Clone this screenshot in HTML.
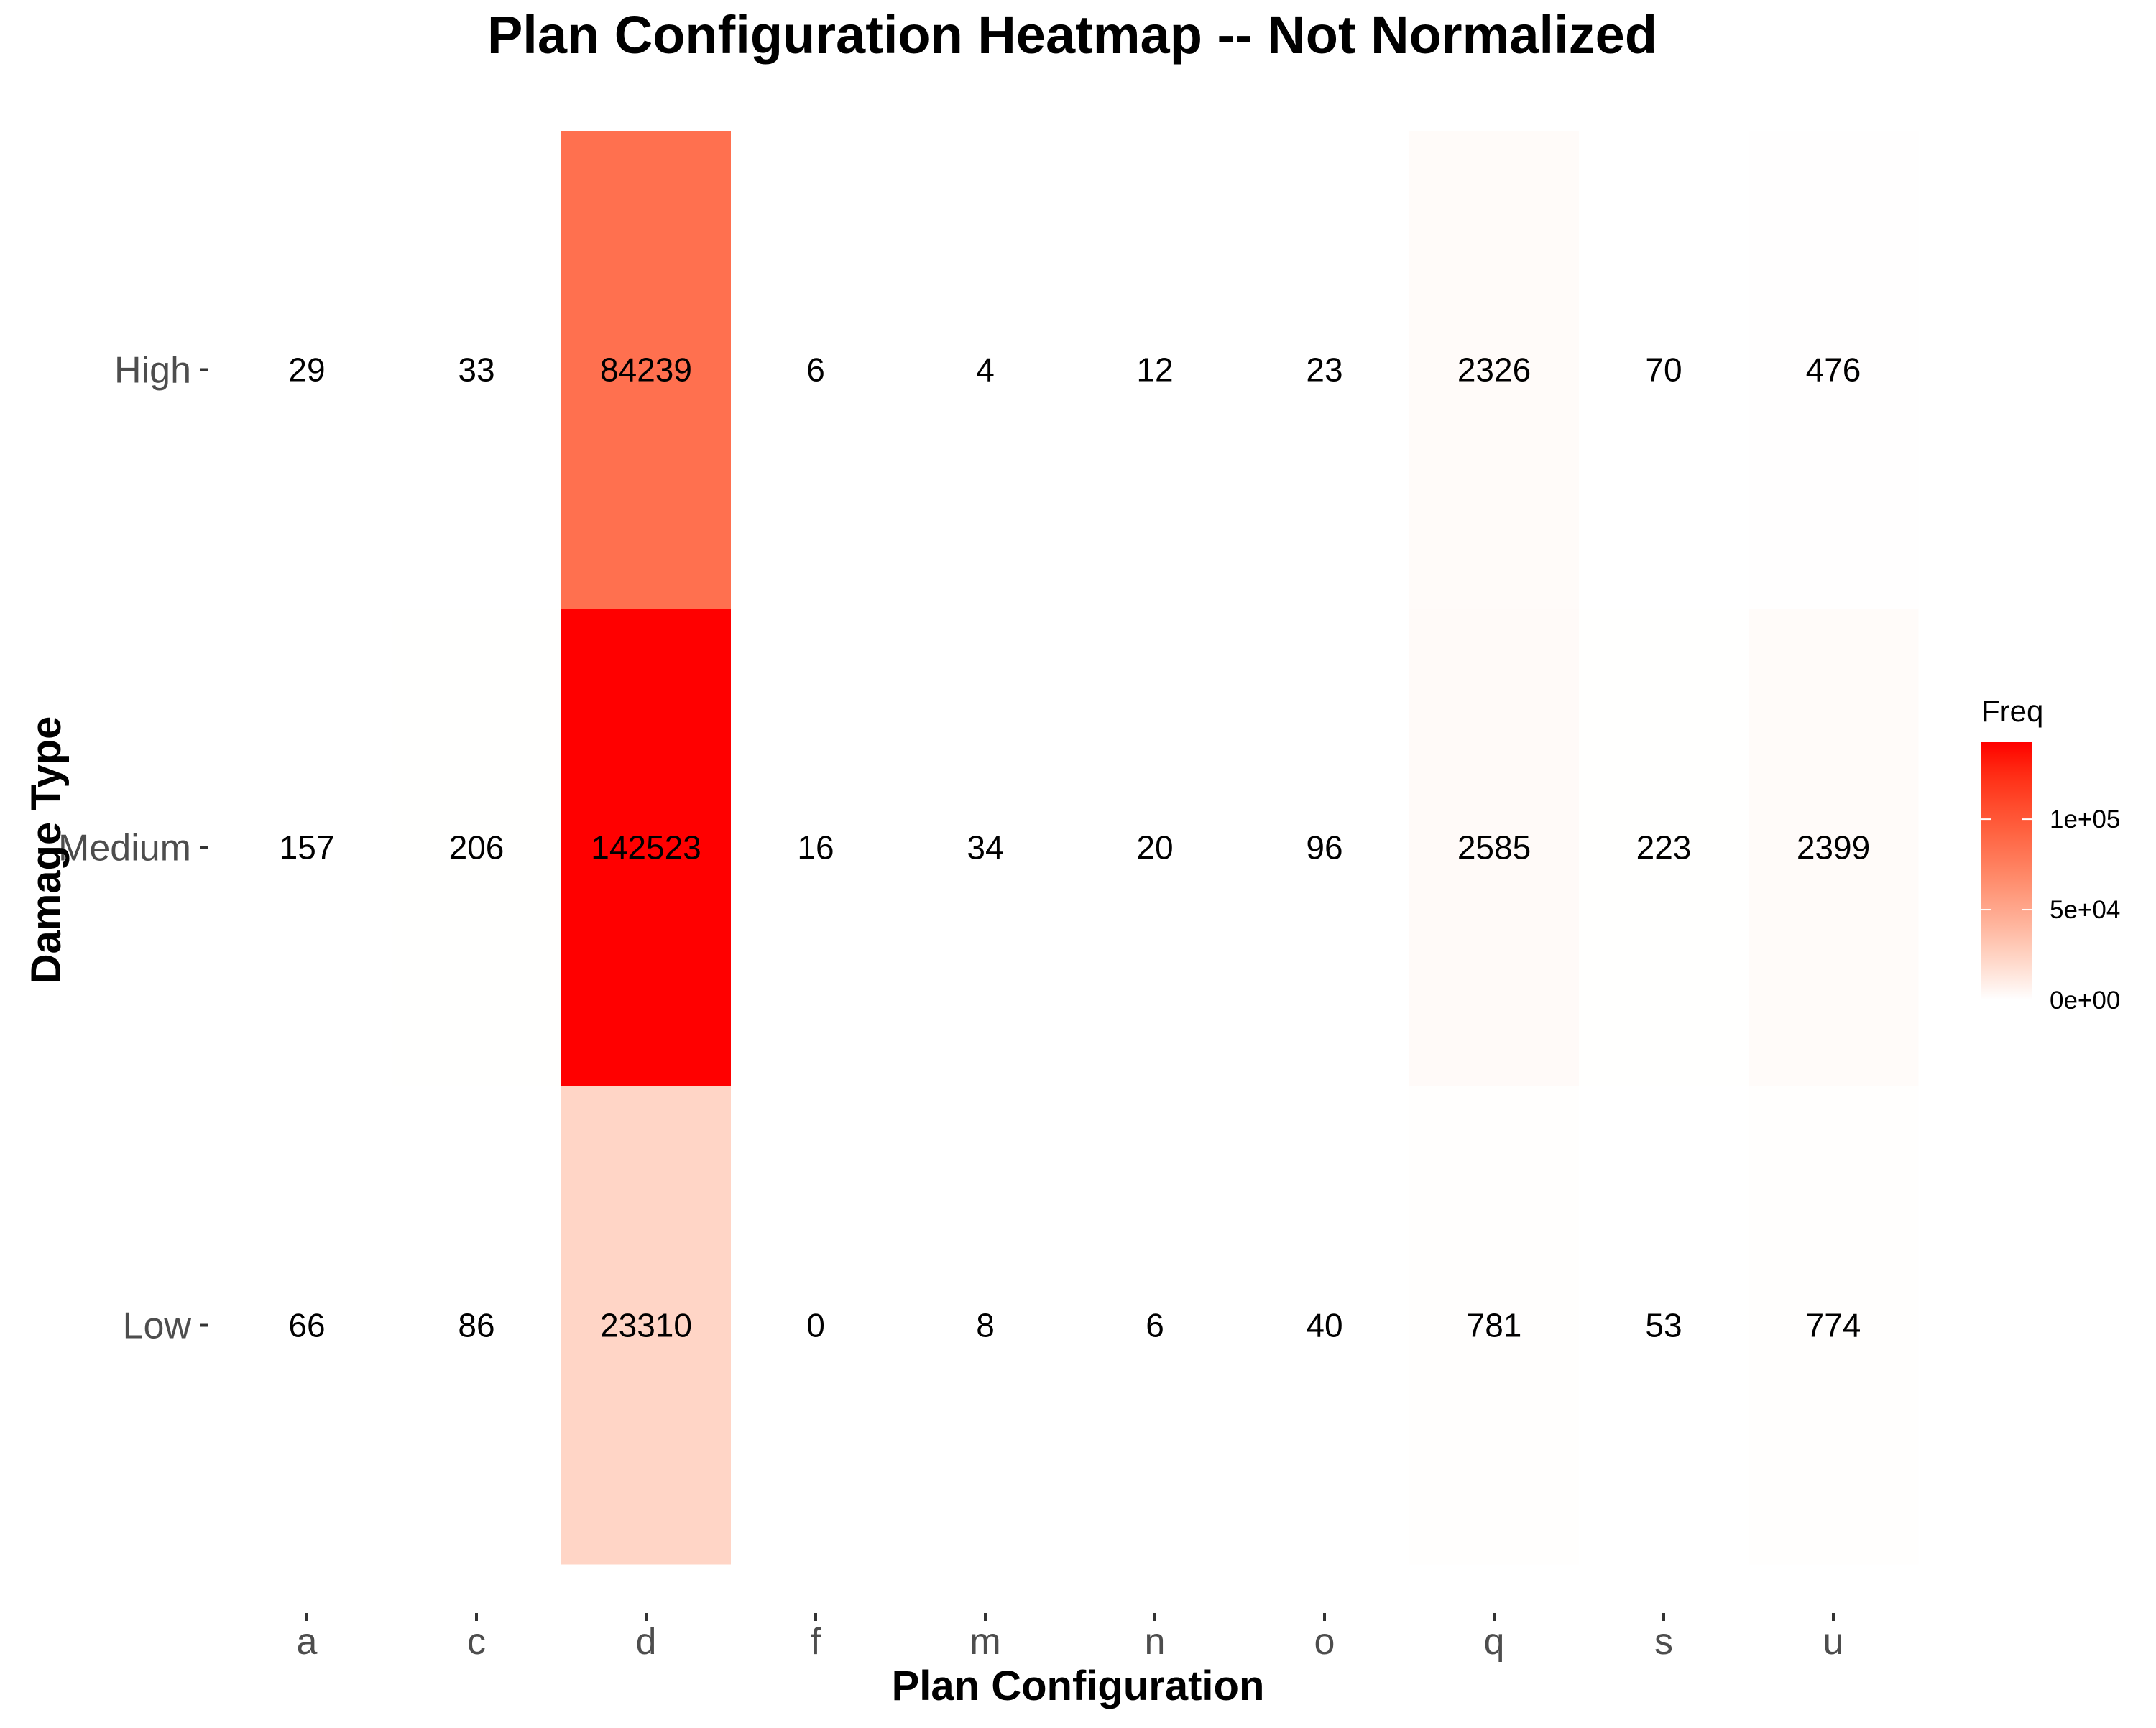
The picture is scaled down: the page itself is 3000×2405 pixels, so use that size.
<!DOCTYPE html>
<html><head><meta charset="utf-8"><style>
body{margin:0;background:#fff;}
svg text{font-family:"Liberation Sans",Arial,sans-serif;}
</style></head><body>
<svg id="chart" width="3000" height="2400" viewBox="0 0 3000 2400" xmlns="http://www.w3.org/2000/svg">
<defs><linearGradient id="lg" x1="0" y1="1" x2="0" y2="0"></linearGradient></defs>
<text x="1492" y="74" text-anchor="middle" font-size="74" font-weight="bold">Plan Configuration Heatmap -- Not Normalized</text>
<g id="cells"></g>
<g id="axes"></g>
<text x="1500" y="2366" text-anchor="middle" font-size="58" font-weight="bold">Plan Configuration</text>
<text transform="translate(84,1183) rotate(-90)" text-anchor="middle" font-size="58" font-weight="bold">Damage Type</text>
<g id="legend"></g>
</svg>
<script>
const categories = ["a","c","d","f","m","n","o","q","s","u"];
const rowsLabels = ["High","Medium","Low"];
const highVals = [29,33,84239,6,4,12,23,2326,70,476];
const mediumVals = [157,206,142523,16,34,20,96,2585,223,2399];
const lowVals = [66,86,23310,0,8,6,40,781,53,774];
const legendTicks = [0,50000,100000];
const legendTickLabels = ["0e+00","5e+04","1e+05"];

const NS="http://www.w3.org/2000/svg";
const series=[highVals,mediumVals,lowVals];
const maxV=Math.max(...highVals,...mediumVals,...lowVals);
const colW=236, x0=427, rowH=665, yTop=182;
const xPos=i=>x0+i*colW;
const yPos=j=>yTop+rowH*j+rowH/2;

function lab2rgb(L,a,b){
  let fy=(L+16)/116, fx=fy+a/500, fz=fy-b/200;
  const f=t=>t**3>0.008856?t**3:(t-16/116)/7.787;
  let X=0.95047*f(fx),Y=1*f(fy),Z=1.08883*f(fz);
  let r=3.2406*X-1.5372*Y-0.4986*Z,g=-0.9689*X+1.8758*Y+0.0415*Z,bb=0.0557*X-0.2040*Y+1.0570*Z;
  const c=v=>{v=v>0.0031308?1.055*Math.pow(v,1/2.4)-0.055:12.92*v;return Math.round(Math.max(0,Math.min(1,v))*255);};
  return `rgb(${c(r)},${c(g)},${c(bb)})`;
}
function color(v){const t0=v/maxV;const t=1-Math.pow(1-t0,1.4);return lab2rgb(100+(53.24-100)*t,80.09*t,67.20*t);}

const cells=document.getElementById('cells');
series.forEach((vals,j)=>vals.forEach((v,i)=>{
  const r=document.createElementNS(NS,'rect');
  
  
  r.setAttribute('x',xPos(i)-colW/2);r.setAttribute('y',yPos(j)-rowH/2);
  r.setAttribute('width',colW+0.5);r.setAttribute('height',rowH+0.5);
  r.setAttribute('fill',color(v));cells.appendChild(r);
  const t=document.createElementNS(NS,'text');
  
  
  t.setAttribute('x',xPos(i));t.setAttribute('y',yPos(j)+16);
  t.setAttribute('text-anchor','middle');t.setAttribute('font-size','46');
  t.textContent=v;cells.appendChild(t);
}));

const axes=document.getElementById('axes');
categories.forEach((c,i)=>{
  const l=document.createElementNS(NS,'line');
  
  
  l.setAttribute('x1',xPos(i));l.setAttribute('x2',xPos(i));l.setAttribute('y1',2245);l.setAttribute('y2',2256);
  l.setAttribute('stroke','#333');l.setAttribute('stroke-width','4');axes.appendChild(l);
  const t=document.createElementNS(NS,'text');
  
  
  t.setAttribute('x',xPos(i));t.setAttribute('y',2302);t.setAttribute('text-anchor','middle');
  t.setAttribute('font-size','52');t.setAttribute('fill','#4d4d4d');t.textContent=c;axes.appendChild(t);
});
rowsLabels.forEach((c,j)=>{
  const l=document.createElementNS(NS,'line');
  
  
  l.setAttribute('x1',278);l.setAttribute('x2',290);l.setAttribute('y1',yPos(j));l.setAttribute('y2',yPos(j));
  l.setAttribute('stroke','#333');l.setAttribute('stroke-width','4');axes.appendChild(l);
  const t=document.createElementNS(NS,'text');
  
  
  t.setAttribute('x',266);t.setAttribute('y',yPos(j)+18);t.setAttribute('text-anchor','end');
  t.setAttribute('font-size','52');t.setAttribute('fill','#4d4d4d');t.textContent=c;axes.appendChild(t);
});

const lg=document.getElementById('lg');
for(let k=0;k<=20;k++){const s=document.createElementNS(NS,'stop');s.setAttribute('offset',k/20);s.setAttribute('stop-color',color(maxV*k/20));lg.appendChild(s);}
const leg=document.getElementById('legend');
const lx=2757,lw=71,lBottom=1392,lTop=1033;
const ly=v=>lBottom-(v/maxV)*(lBottom-lTop);
const tt=document.createElementNS(NS,'text');


tt.setAttribute('x',lx);tt.setAttribute('y',1004);tt.setAttribute('font-size','42');tt.textContent='Freq';leg.appendChild(tt);
const bar=document.createElementNS(NS,'rect');


bar.setAttribute('x',lx);bar.setAttribute('y',lTop);bar.setAttribute('width',lw);bar.setAttribute('height',lBottom-lTop);
bar.setAttribute('fill','url(#lg)');leg.appendChild(bar);
legendTicks.forEach((v,k)=>{
  [[lx,lx+14],[lx+lw-14,lx+lw]].forEach(p=>{
    const l=document.createElementNS(NS,'line');
    
    
    l.setAttribute('x1',p[0]);l.setAttribute('x2',p[1]);l.setAttribute('y1',ly(v));l.setAttribute('y2',ly(v));
    l.setAttribute('stroke','#fff');l.setAttribute('stroke-width','2');leg.appendChild(l);
  });
  const t=document.createElementNS(NS,'text');
  
  
  t.setAttribute('x',2852);t.setAttribute('y',ly(v)+12);t.setAttribute('font-size','35');
  t.textContent=legendTickLabels[k];leg.appendChild(t);
});
</script>
</body></html>
